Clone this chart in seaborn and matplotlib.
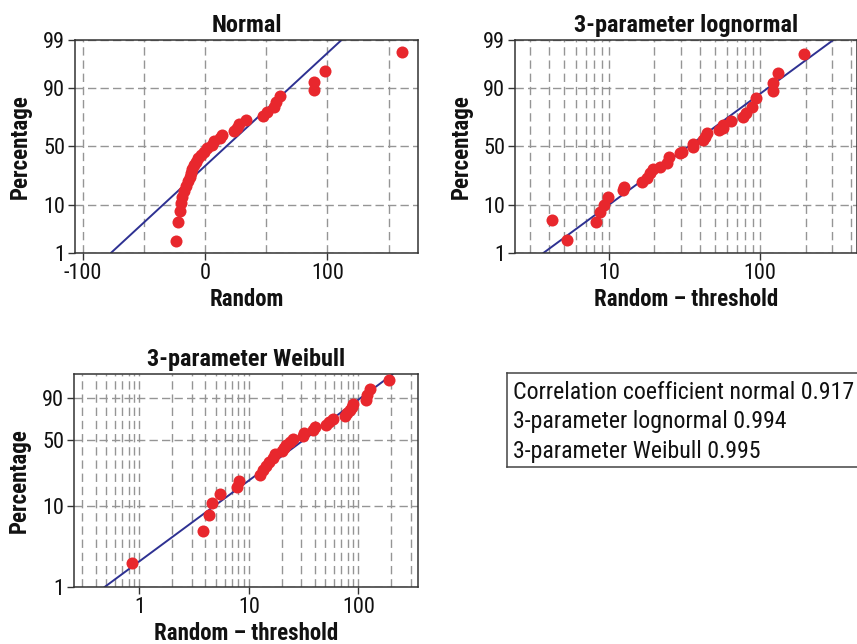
import math
from statistics import NormalDist

import numpy as np
import pandas as pd
import matplotlib
matplotlib.use("Agg")
import matplotlib.pyplot as plt
import seaborn as sns
from matplotlib import font_manager as fm
from matplotlib.ticker import FixedLocator, NullLocator, NullFormatter, FixedFormatter, LogLocator, FuncFormatter

# ---------------- data ----------------
# plotting positions (percent) of the 34 ranked observations
pct_rank = [2.0, 4.9, 7.8, 10.8, 13.7, 16.6, 19.5, 22.4, 25.3, 28.2, 31.1, 34.0,
            36.9, 39.8, 42.7, 45.6, 48.5, 51.5, 54.4, 57.3, 60.2, 63.1, 66.0, 68.9,
            71.8, 74.7, 77.6, 80.5, 83.4, 86.3, 89.2, 92.1, 95.1, 98.0]

# Normal panel: "Random" values
normal_x = [-23.5, -22.2, -20.3, -20.0, -18.4, -17.3, -15.7, -13.5, -12.4, -11.4,
            -10.3, -8.6, -7.0, -5.4, -3.2, -1.1, 1.4, 5.4, 7.3, 12.2, 14.1, 23.8,
            26.5, 28.1, 33.5, 47.3, 50.3, 56.2, 58.1, 61.1, 88.7, 88.7, 98.1, 161.3]

# 3-parameter lognormal panel: Random - threshold, with its own percentages
lognorm_x = [4.17, 5.3, 8.2, 8.7, 9.2, 9.8, 12.3, 12.6, 16.5, 17.8, 18.7, 19.5,
             21.8, 24.3, 25.1, 29.3, 30.3, 35.8, 36.2, 41.7, 43.2, 44.4, 53.7, 56.6,
             57.2, 63.9, 77.5, 80.7, 88.1, 94.1, 121.0, 121.0, 132.0, 194.0]
lognorm_pct = [5.4, 2.1, 5.0, 7.7, 10.1, 13.7, 17.1, 19.0, 22.1, 24.4, 27.9, 30.9,
               33.0, 35.7, 40.7, 44.6, 45.5, 49.8, 52.2, 55.6, 58.5, 61.3, 64.1, 65.4,
               68.1, 71.3, 73.8, 76.6, 80.4, 85.7, 88.8, 91.8, 94.5, 97.8]

# 3-parameter Weibull panel: Random - threshold
weibull_x = [0.85, 3.8, 4.3, 4.6, 5.5, 7.8, 8.1, 12.7, 13.4, 14.3, 15.2, 16.5,
             17.5, 20.0, 20.8, 21.8, 24.0, 25.5, 31.0, 31.8, 38.5, 40.0, 51.0, 54.0,
             58.5, 75.0, 78.0, 84.0, 87.0, 90.0, 117.0, 120.0, 127.0, 190.0]

# fitted distribution lines
normal_mu, normal_sigma = 17.3, 40.5
lognorm_median, lognorm_sigma = 33.5, 0.950
weibull_shape, weibull_scale = 1.01, 45.4
fit_pct = [1, 2, 5, 10, 20, 30, 50, 70, 80, 90, 95, 98, 99]

prob_ticks = [1, 10, 50, 90, 99]
weib_ticks = [1, 10, 50, 90]
box_lines = ["Correlation coefficient normal 0.917",
             "3-parameter lognormal 0.994",
             "3-parameter Weibull 0.995"]

# ---------------- fonts ----------------
sns.set_theme(style="white")
avail = {f.name for f in fm.fontManager.ttflist}
FONT, STRETCH = None, "normal"
for cand in ["Liberation Sans Narrow", "Roboto Condensed", "Noto Sans Condensed",
             "Open Sans Condensed", "DejaVu Sans Condensed"]:
    if cand in avail:
        FONT = cand
        break
if FONT is None:
    for fam in ["Noto Sans", "Open Sans", "DejaVu Sans", "Roboto"]:
        if any(f.name == fam and "condensed" in str(f.stretch) for f in fm.fontManager.ttflist):
            FONT, STRETCH = fam, "condensed"
            break
if FONT is None:
    FONT = "Liberation Sans"
plt.rcParams["font.family"] = [FONT, "DejaVu Sans"]
plt.rcParams["font.stretch"] = STRETCH
plt.rcParams["axes.unicode_minus"] = False

# ---------------- probability scales ----------------
_nd = NormalDist()


def _inv_cdf(p):
    if not np.isfinite(p):
        return np.nan
    return _nd.inv_cdf(min(max(p, 1e-12), 1 - 1e-12))


_v_inv = np.vectorize(_inv_cdf, otypes=[float])
_v_erf = np.vectorize(math.erf, otypes=[float])


def norm_fwd(p):
    return _v_inv(np.asarray(p, dtype=float) / 100.0)


def norm_inv(z):
    return 50.0 * (1.0 + _v_erf(np.asarray(z, dtype=float) / math.sqrt(2)))


def weib_fwd(p):
    p = np.clip(np.asarray(p, dtype=float) / 100.0, 1e-12, 1 - 1e-12)
    return np.log(-np.log1p(-p))


def weib_inv(w):
    return 100.0 * (-np.expm1(-np.exp(np.asarray(w, dtype=float))))


# ---------------- figure ----------------
W, H = 857, 644
fig = plt.figure(figsize=(W / 100, H / 100), dpi=100)
fig.patch.set_facecolor("white")


def px_axes(l, t, r, b):
    return fig.add_axes([l / W, 1 - b / H, (r - l) / W, (b - t) / H])


RED = "#e8272d"
NAVY = "#2e3192"
GRID = "#959595"
TICK_FS = 16
LAB_FS = 16.5
TITLE_FS = 17.5
BOX_FS = 17.2

ax_n = px_axes(75, 40, 418, 253)
ax_l = px_axes(515, 40, 856.5, 253)
ax_w = px_axes(74, 374.3, 418.3, 587.3)

# scales first
ax_n.set_yscale("function", functions=(norm_fwd, norm_inv))
ax_l.set_yscale("function", functions=(norm_fwd, norm_inv))
ax_w.set_yscale("function", functions=(weib_fwd, weib_inv))
ax_l.set_xscale("log")
ax_w.set_xscale("log")

# fitted lines
fp = np.asarray(fit_pct, dtype=float)
z = norm_fwd(fp)
fit_normal = pd.DataFrame({"x": normal_mu + normal_sigma * z, "p": fp})
fit_lognorm = pd.DataFrame({"x": np.exp(np.log(lognorm_median) + lognorm_sigma * z), "p": fp})
fit_weibull = pd.DataFrame({"x": weibull_scale * (-np.log1p(-fp / 100.0)) ** (1.0 / weibull_shape), "p": fp})

df_n = pd.DataFrame({"x": normal_x, "p": pct_rank})
df_l = pd.DataFrame({"x": lognorm_x, "p": lognorm_pct})
df_w = pd.DataFrame({"x": weibull_x, "p": pct_rank})

for ax, fit, pts in [(ax_n, fit_normal, df_n), (ax_l, fit_lognorm, df_l), (ax_w, fit_weibull, df_w)]:
    sns.lineplot(data=fit, x="x", y="p", ax=ax, color=NAVY, linewidth=1.4,
                 estimator=None, sort=False, zorder=2)
    sns.scatterplot(data=pts, x="x", y="p", ax=ax, color=RED, s=75, linewidth=0,
                    zorder=3)


def style(ax, title, xlabel, yt):
    ax.set_facecolor("white")
    ax.set_axisbelow(True)
    for s in ax.spines.values():
        s.set_color("#333333")
        s.set_linewidth(1.1)
        s.set_visible(True)
    ax.set_ylim(1, 99)
    ax.yaxis.set_major_locator(FixedLocator(yt))
    ax.yaxis.set_major_formatter(FixedFormatter([str(v) for v in yt]))
    ax.yaxis.set_minor_locator(NullLocator())
    ax.tick_params(which="major", direction="out", length=5, width=1.0,
                   color="#333333", labelsize=TICK_FS, pad=2, labelcolor="#111111",
                   left=True, bottom=True)
    ax.tick_params(which="minor", length=0)
    ax.grid(True, which="both", axis="x", color=GRID, linewidth=1.0,
            linestyle=(0, (6, 3.5)))
    ax.grid(True, which="major", axis="y", color=GRID, linewidth=1.0,
            linestyle=(0, (6, 3)))
    ax.set_title(title, fontsize=TITLE_FS, fontweight="bold", pad=6, color="#111111")
    ax.set_xlabel(xlabel, fontsize=LAB_FS, fontweight="bold", color="#111111")
    ax.set_ylabel("Percentage", fontsize=LAB_FS, fontweight="bold", color="#111111")


style(ax_n, "Normal", "Random", prob_ticks)
style(ax_l, "3-parameter lognormal", "Random \u2013 threshold", prob_ticks)
style(ax_w, "3-parameter Weibull", "Random \u2013 threshold", weib_ticks)

# x axes
ax_n.set_xlim(-106.2, 174.0)
ax_n.xaxis.set_major_locator(FixedLocator([-100, 0, 100]))
ax_n.xaxis.set_minor_locator(FixedLocator([-50, 50, 150]))

log_fmt = FuncFormatter(lambda v, pos: f"{v:g}")
for ax, lim in [(ax_l, (2.385, 435.0)), (ax_w, (0.253, 353.0))]:
    ax.set_xlim(*lim)
    ax.xaxis.set_major_locator(LogLocator(base=10))
    ax.xaxis.set_major_formatter(log_fmt)
    ax.xaxis.set_minor_locator(LogLocator(base=10, subs=np.arange(2, 10)))
    ax.xaxis.set_minor_formatter(NullFormatter())

# label placement
ax_n.yaxis.set_label_coords(-0.125, 0.5)
ax_l.yaxis.set_label_coords(-0.125, 0.5)
ax_w.yaxis.set_label_coords(-0.125, 0.5)
ax_n.xaxis.set_label_coords(0.5, -0.165)
ax_l.xaxis.set_label_coords(0.5, -0.165)
ax_w.xaxis.set_label_coords(0.5, -0.165)

# text box with correlation coefficients
bax = px_axes(507.3, 373.3, 900, 467.3)
bax.set_xticks([])
bax.set_yticks([])
bax.patch.set_alpha(0)
for s in bax.spines.values():
    s.set_color("#444444")
    s.set_linewidth(1.1)
for line, base in zip(box_lines, [399.3, 428.3, 457.7]):
    fig.text(512.7 / W, 1 - base / H, line, fontsize=BOX_FS, va="baseline",
             ha="left", color="#111111")

fig.savefig("out.png", dpi=100, facecolor="white")
